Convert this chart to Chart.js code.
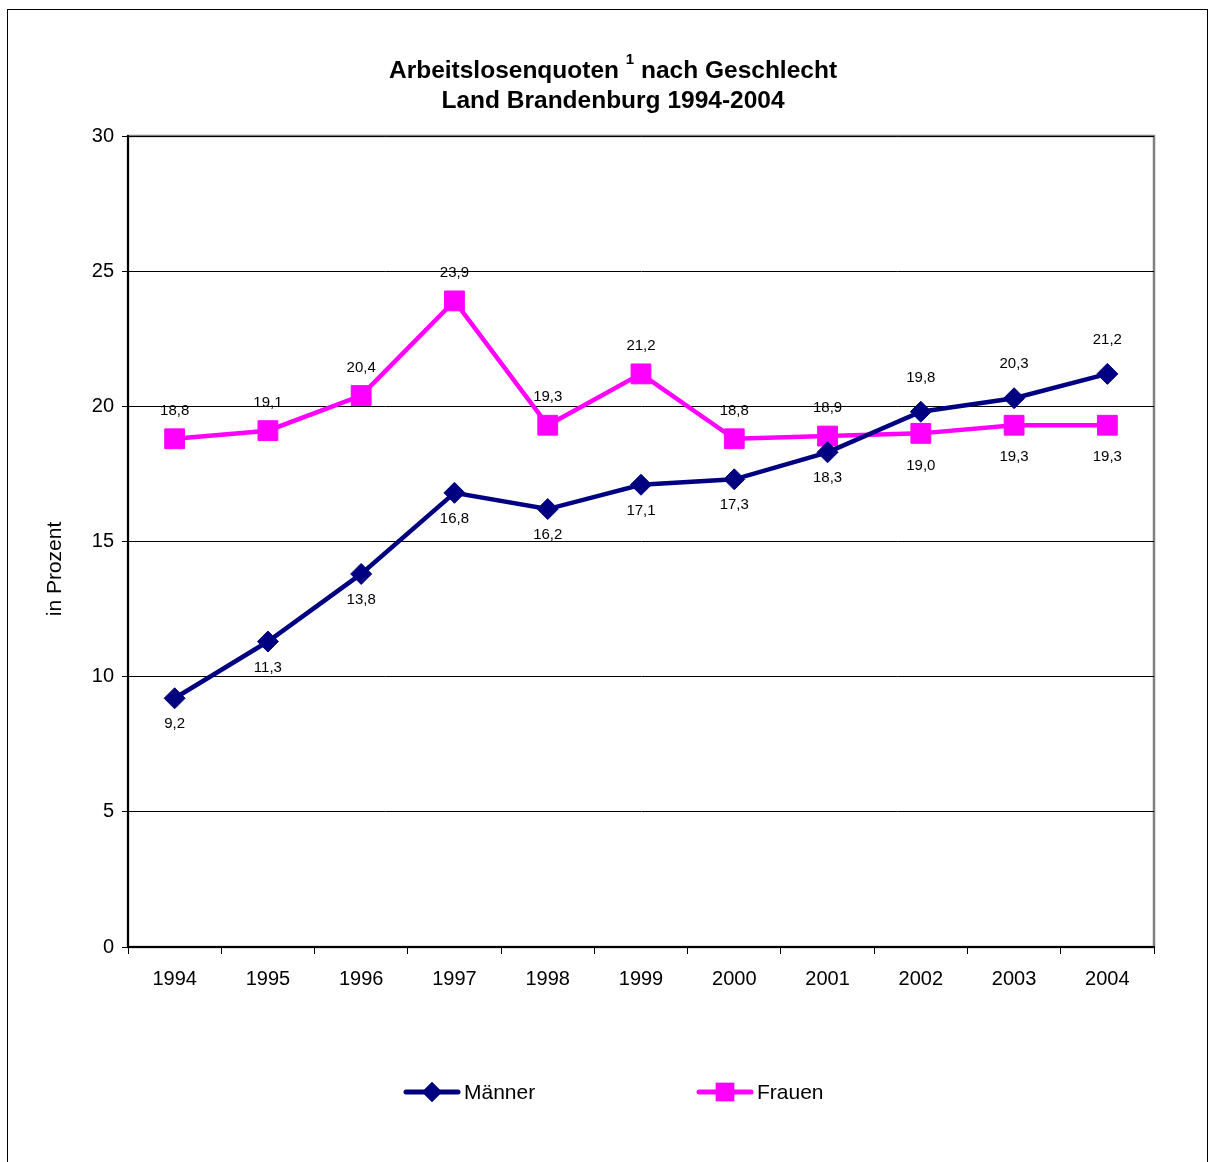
<!DOCTYPE html>
<html>
<head>
<meta charset="utf-8">
<script src="https://cdn.jsdelivr.net/npm/chart.js@4/dist/chart.umd.min.js"></script>
<style>
  html,body{margin:0;padding:0;background:#fff}
  #wrap{width:1209px;height:1162px;position:relative}
</style>
</head>
<body>
<div id="wrap"><canvas id="c" width="1209" height="1162"></canvas></div>
<script>
const years = ['1994','1995','1996','1997','1998','1999','2000','2001','2002','2003','2004'];
const maenner = [9.2, 11.3, 13.8, 16.8, 16.2, 17.1, 17.3, 18.3, 19.8, 20.3, 21.2];
const frauen = [18.8, 19.1, 20.4, 23.9, 19.3, 21.2, 18.8, 18.9, 19.0, 19.3, 19.3];
const yTicks = [0, 5, 10, 15, 20, 25, 30];

const FONT = '"Liberation Sans", Arial, sans-serif';
const NAVY = '#000080', PINK = '#FF00FF';

const fmt = v => v.toFixed(1).replace('.', ',');

const deco = {
  id: 'deco',
  beforeDraw(chart){
    const ctx = chart.ctx, a = chart.chartArea;
    ctx.save();
    // outer frame
    ctx.strokeStyle = '#000'; ctx.lineWidth = 1;
    ctx.strokeRect(7.5, 9.5, 1200, 1170);
    // plot area box (gray)
    ctx.strokeStyle = '#808080'; ctx.lineWidth = 2.5;
    ctx.strokeRect(a.left, a.top, a.right - a.left, a.bottom - a.top);
    ctx.restore();
  },
  afterDraw(chart){
    const ctx = chart.ctx;
    ctx.save();
    // title
    ctx.fillStyle = '#000';
    ctx.textBaseline = 'alphabetic';
    ctx.font = 'bold 24.5px ' + FONT;
    const p1 = 'Arbeitslosenquoten ', sup = '1', p2 = ' nach Geschlecht';
    const w1 = ctx.measureText(p1).width, w3 = ctx.measureText(p2).width;
    ctx.font = 'bold 15px ' + FONT;
    const w2 = ctx.measureText(sup).width;
    let x = 613 - (w1 + w2 + w3) / 2;
    ctx.textAlign = 'left';
    ctx.font = 'bold 24.5px ' + FONT;
    ctx.fillText(p1, x, 78);
    ctx.font = 'bold 15px ' + FONT;
    ctx.fillText(sup, x + w1, 64);
    ctx.font = 'bold 24.5px ' + FONT;
    ctx.fillText(p2, x + w1 + w2, 78);
    ctx.textAlign = 'center';
    ctx.fillText('Land Brandenburg 1994-2004', 613, 108);

    // y axis title
    ctx.save();
    ctx.translate(55, 569);
    ctx.rotate(-Math.PI / 2);
    ctx.font = '21px ' + FONT;
    ctx.textAlign = 'center';
    ctx.textBaseline = 'middle';
    ctx.fillText('in Prozent', 0, 0);
    ctx.restore();

    // data labels: each label goes on the side away from the other series
    ctx.font = '15px ' + FONT;
    ctx.textAlign = 'center';
    ctx.textBaseline = 'middle';
    const m0 = chart.getDatasetMeta(0), m1 = chart.getDatasetMeta(1);
    years.forEach((y, i) => {
      const menAbove = maenner[i] > frauen[i];
      const pm = m0.data[i], pf = m1.data[i];
      ctx.fillText(fmt(maenner[i]), pm.x, pm.y + (menAbove ? -34 : 26));
      ctx.fillText(fmt(frauen[i]), pf.x, pf.y + (menAbove ? 32 : -28));
    });

    // legend
    const ly = 1092;
    const items = [
      {x: 404, color: NAVY, style: 'rectRot', r: 10, label: 'Männer'},
      {x: 697, color: PINK, style: 'rect', r: 13, label: 'Frauen'}
    ];
    items.forEach(it => {
      ctx.strokeStyle = it.color; ctx.lineWidth = 5; ctx.lineCap = 'round';
      ctx.beginPath(); ctx.moveTo(it.x + 2, ly); ctx.lineTo(it.x + 54, ly); ctx.stroke();
      ctx.fillStyle = it.color;
      Chart.helpers.drawPoint(ctx, {pointStyle: it.style, radius: it.r, rotation: 0, borderWidth: 0}, it.x + 28, ly);
      ctx.fill();
      ctx.fillStyle = '#000';
      ctx.font = '21px ' + FONT;
      ctx.textAlign = 'left';
      ctx.textBaseline = 'middle';
      ctx.fillText(it.label, it.x + 60, ly + 1);
    });
    ctx.restore();
  }
};

new Chart(document.getElementById('c'), {
  type: 'line',
  data: {
    labels: years,
    datasets: [
      {label: 'Männer', data: maenner, borderColor: NAVY, backgroundColor: NAVY, borderWidth: 4.5,
       pointStyle: 'rectRot', pointRadius: 10.5, pointBorderWidth: 1, pointHoverRadius: 10.5, tension: 0},
      {label: 'Frauen', data: frauen, borderColor: PINK, backgroundColor: PINK, borderWidth: 4.5,
       pointStyle: 'rect', pointRadius: 14, pointBorderWidth: 1, pointHoverRadius: 14, tension: 0}
    ]
  },
  options: {
    responsive: false,
    animation: false,
    events: [],
    layout: {padding: {left: 80, top: 136, right: 55, bottom: 160}},
    plugins: {legend: {display: false}, title: {display: false}, tooltip: {enabled: false}},
    scales: {
      x: {
        offset: true,
        grid: {offset: true, drawOnChartArea: false, drawTicks: true, tickLength: 7, color: '#000', lineWidth: 1},
        border: {color: '#000', width: 2},
        ticks: {color: '#000', font: {family: FONT, size: 20}, padding: 13, maxRotation: 0},
        afterFit(s){ s.height = 55; }
      },
      y: {
        min: 0, max: 30,
        afterBuildTicks(s){ s.ticks = yTicks.map(v => ({value: v})); },
        grid: {color: '#000', lineWidth: 1, tickLength: 6, drawTicks: true},
        border: {color: '#000', width: 2},
        ticks: {color: '#000', font: {family: FONT, size: 20}, padding: 8},
        afterFit(s){ s.width = 48; }
      }
    }
  },
  plugins: [deco]
});
</script>
</body>
</html>
